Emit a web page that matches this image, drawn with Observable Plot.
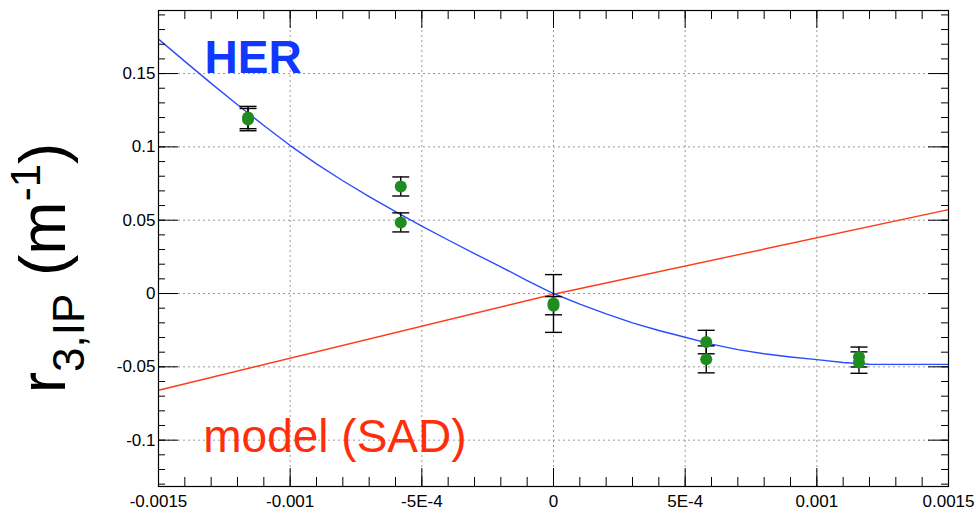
<!DOCTYPE html>
<html><head><meta charset="utf-8">
<script src="https://cdn.jsdelivr.net/npm/d3@7"></script>
<script src="https://cdn.jsdelivr.net/npm/@observablehq/plot@0.6"></script>
<style>body{margin:0;background:#fff;}</style>
</head><body><div id="chart"></div>
<script>
// HER fit curve
const herX = [-0.0015,-0.0014,-0.0013,-0.0012,-0.0011,-0.0010,-0.0009,-0.0008,-0.0007,-0.0006,-0.0005,-0.0004,-0.0003,-0.0002,-0.0001,0,0.0001,0.0002,0.0003,0.0004,0.0005,0.0006,0.0007,0.0008,0.0009,0.0010,0.0011,0.0012,0.0013,0.0014,0.0015];
const herY = [0.1735,0.1583,0.1433,0.1287,0.1146,0.1009,0.0884,0.0769,0.0661,0.0558,0.0460,0.0365,0.0272,0.0182,0.0088,0,-0.0072,-0.0139,-0.0200,-0.0252,-0.0298,-0.0345,-0.0383,-0.0411,-0.0433,-0.0451,-0.0470,-0.0482,-0.0483,-0.0483,-0.0483];
// model (SAD) line
const modelX = [-0.0015, 0, 0.0015];
const modelY = [-0.0660, -0.0005, 0.0572];
// measured points
const pointX = [-0.00116,-0.00116,-0.00058,-0.00058,0,0,0.00058,0.00058,0.00116,0.00116];
const pointY = [0.1200,0.1186,0.0730,0.0485,-0.0068,-0.0083,-0.0331,-0.0449,-0.0433,-0.0471];
const pointErr = [0.0076,0.0076,0.0065,0.0065,0.0197,0.0062,0.0080,0.0092,0.0068,0.0073];
// ticks
const xTicks = [-0.0015,-0.001,-0.0005,0,0.0005,0.001,0.0015];
const xTickLabels = ["-0.0015","-0.001","-5E-4","0","5E-4","0.001","0.0015"];
const yTicks = [-0.1,-0.05,0,0.05,0.1,0.15];
const yTickLabels = ["-0.1","-0.05","0","0.05","0.1","0.15"];
const xMinor = d3.range(-15,16).map(i => i*1e-4);
const yMinor = d3.range(-13,20).map(i => i*0.01);

const her = herX.map((x,i) => ({x, y: herY[i]}));
const model = modelX.map((x,i) => ({x, y: modelY[i]}));
const pts = pointX.map((x,i) => ({x, y: pointY[i], err: pointErr[i]}));

const W = 976, H = 513, ML = 158, MR = 28, MT = 10, MB = 27;
const PW = W - ML - MR, PH = H - MT - MB;
const capSymbol = {draw(ctx, size){ const r = Math.sqrt(size/Math.PI); ctx.moveTo(-r,0); ctx.lineTo(r,0); }};

const chart = Plot.plot({
  width: W, height: H,
  marginLeft: ML, marginRight: MR, marginTop: MT, marginBottom: MB,
  style: {fontFamily: "'Liberation Sans', Arial, sans-serif", fontSize: "17px", background: "#fff", color: "#000"},
  x: {domain: [-0.0015, 0.0015]},
  y: {domain: [-0.1316, 0.193]},
  marks: [
    Plot.gridX(xTicks, {stroke: "#999", strokeOpacity: 1, strokeDasharray: "2,3"}),
    Plot.gridY(yTicks, {stroke: "#999", strokeOpacity: 1, strokeDasharray: "2,3"}),
    Plot.line(model, {x: "x", y: "y", stroke: "#ff3a1a", strokeWidth: 1.4}),
    Plot.line(her, {x: "x", y: "y", stroke: "#2a4cff", strokeWidth: 1.4}),
    Plot.ruleX(pts, {x: "x", y1: d => d.y - d.err, y2: d => d.y + d.err, stroke: "#000", strokeWidth: 1.4}),
    Plot.dot(pts, {x: "x", y: d => d.y + d.err, symbol: capSymbol, r: 8.5, stroke: "#000", strokeWidth: 1.4, fill: "none"}),
    Plot.dot(pts, {x: "x", y: d => d.y - d.err, symbol: capSymbol, r: 8.5, stroke: "#000", strokeWidth: 1.4, fill: "none"}),
    Plot.dot(pts, {x: "x", y: "y", r: 6, fill: "#1e8c1e", stroke: "none"}),
    Plot.text(["HER"], {x: -0.001325, y: 0.1605, text: d => d, textAnchor: "start", fill: "#1038ff", fontSize: 46, fontWeight: "bold"}),
    Plot.text(["model (SAD)"], {x: -0.00133, y: -0.098, text: d => d, textAnchor: "start", fill: "#ff2d0a", fontSize: 46}),
    // inward ticks: y left/right
    Plot.tickY(yMinor, {y: d => d, insetRight: PW - 7, stroke: "#000"}),
    Plot.tickY(yMinor, {y: d => d, insetLeft: PW - 7, stroke: "#000"}),
    Plot.tickY(yTicks, {y: d => d, insetRight: PW - 20, stroke: "#000"}),
    Plot.tickY(yTicks, {y: d => d, insetLeft: PW - 20, stroke: "#000"}),
    // inward ticks: x bottom/top
    Plot.tickX(xMinor, {x: d => d, insetTop: PH - 9, stroke: "#000"}),
    Plot.tickX(xMinor, {x: d => d, insetBottom: PH - 9, stroke: "#000"}),
    Plot.tickX(xTicks, {x: d => d, insetTop: PH - 18, stroke: "#000"}),
    Plot.tickX(xTicks, {x: d => d, insetBottom: PH - 18, stroke: "#000"}),
    Plot.axisX(xTicks, {anchor: "bottom", tickSize: 0, tickPadding: 8, label: null, tickFormat: d => xTickLabels[xTicks.indexOf(d)]}),
    Plot.axisY(yTicks, {anchor: "left", tickSize: 0, tickPadding: 3, label: null, tickFormat: d => yTickLabels[yTicks.indexOf(d)]}),
    Plot.frame({stroke: "#000", strokeWidth: 1.2})
  ]
});
document.getElementById("chart").appendChild(chart);

// y-axis title with subscript and superscript
const svg = d3.select(chart);
const t = svg.append("text")
  .attr("transform", "translate(65,268) rotate(-90)")
  .attr("text-anchor", "middle")
  .attr("fill", "#000")
  .style("font-family", "'Liberation Sans', Arial, sans-serif")
  .style("font-size", "64px");
t.append("tspan").text("r");
t.append("tspan").attr("dy", 19).style("font-size", "44px").text("3,IP");
t.append("tspan").attr("dy", -19).text(" (m");
t.append("tspan").attr("dy", -25).style("font-size", "42px").text("-1");
t.append("tspan").attr("dy", 25).text(")");
</script>
</body></html>
